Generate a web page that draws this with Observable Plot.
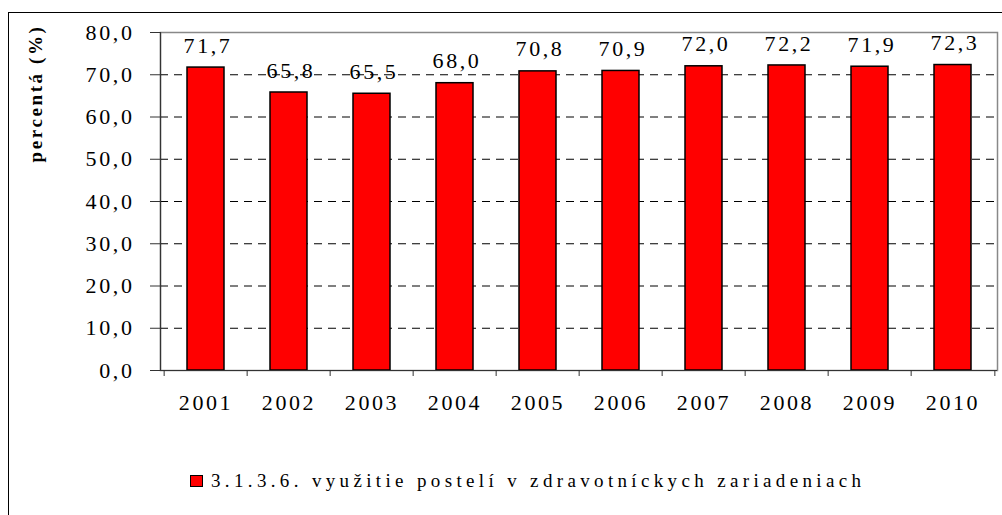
<!DOCTYPE html>
<html>
<head>
<meta charset="utf-8">
<script src="https://cdn.jsdelivr.net/npm/d3@7"></script>
<script src="https://cdn.jsdelivr.net/npm/@observablehq/plot@0.6"></script>
<style>
  html, body { margin: 0; padding: 0; background: #fff; }
  #wrap { position: relative; width: 1002px; height: 515px; overflow: hidden; font-family: "Liberation Serif", "DejaVu Serif", serif; }
  #border { position: absolute; left: 8px; top: 12px; width: 1010px; height: 520px; border: 1.5px solid #000; box-sizing: border-box; }
  #chart { position: absolute; left: 0; top: 0; }
  #chart svg, #chart svg text { font-family: "Liberation Serif", "DejaVu Serif", serif !important; }
  #legend { position: absolute; left: 190px; top: 469px; height: 24px; display: flex; align-items: center; font-size: 19px; color: #000; white-space: nowrap; }
  #legend .sw { width: 11px; height: 10px; background: #ff0000; border: 1.5px solid #000; margin-right: 8px; flex: none; }
</style>
</head>
<body>
<div id="wrap">
  <div id="border"></div>
  <div id="chart"></div>
  <div id="legend"><span class="sw"></span><span id="legendText"></span></div>
</div>
<script>
const years = ["2001","2002","2003","2004","2005","2006","2007","2008","2009","2010"];
const values = [71.7, 65.8, 65.5, 68.0, 70.8, 70.9, 72.0, 72.2, 71.9, 72.3];
const yTicks = [0, 10, 20, 30, 40, 50, 60, 70, 80];
const gridValues = [10, 20, 30, 40, 50, 60, 70];
const seriesName = "3.1.3.6. využitie postelí v zdravotníckych zariadeniach";
const yLabel = "percentá (%)";

const data = years.map((y, i) => ({year: y, value: values[i]}));
const fmt = v => v.toFixed(1).replace(".", ",");

const mL = 160, mR = 5, W = 1002;
const halfBand = (W - mL - mR) / years.length / 2;

const chart = Plot.plot({
  width: W,
  height: 440,
  marginLeft: mL,
  marginRight: mR,
  marginTop: 32,
  marginBottom: 70,
  style: {fontFamily: "'Liberation Serif', 'DejaVu Serif', serif", fontSize: "22px", background: "transparent", letterSpacing: "2.6px", color: "#000"},
  x: {domain: years, paddingInner: 0.56, paddingOuter: 0.28, label: null},
  y: {domain: [0, 80], label: null},
  marks: [
    Plot.frame({stroke: "#888", strokeWidth: 1.5}),
    Plot.ruleY(gridValues, {stroke: "#000", strokeWidth: 1, strokeDasharray: "8,6"}),
    Plot.barY(data, {x: "year", y: "value", fill: "#ff0000", stroke: "#000", strokeWidth: 1.5}),
    Plot.ruleY([0], {stroke: "#333", strokeWidth: 1.2}),
    Plot.frame({anchor: "left", stroke: "#333", strokeWidth: 1.2}),
    Plot.ruleX(years, {x: d => d, y1: 0, y2: 0, insetBottom: -6, dx: -halfBand, stroke: "#333"}),
    Plot.ruleX(years.slice(-1), {x: d => d, y1: 0, y2: 0, insetBottom: -6, dx: halfBand, stroke: "#333"}),
    Plot.axisY({ticks: yTicks, tickFormat: fmt, tickSize: 10, tickPadding: 16, stroke: "#333", label: null}),
    Plot.axisX({tickSize: 0, tickPadding: 24, label: null}),
    Plot.text(data, {x: "year", y: "value", text: d => fmt(d.value), dy: -22, dx: 2, fill: "#000"}),
    Plot.text([yLabel], {frameAnchor: "top-left", dx: -125, dy: 61, rotate: -90, textAnchor: "middle", lineAnchor: "middle", fontWeight: "bold", fontSize: 19, letterSpacing: "1.2px", fill: "#000"})
  ]
});
document.getElementById("chart").appendChild(chart);
const lt = document.getElementById("legendText");
lt.textContent = seriesName;
const w0 = lt.getBoundingClientRect().width;
const target = 650;
lt.style.letterSpacing = ((target - w0) / (seriesName.length - 1)) + "px";
</script>
</body>
</html>
